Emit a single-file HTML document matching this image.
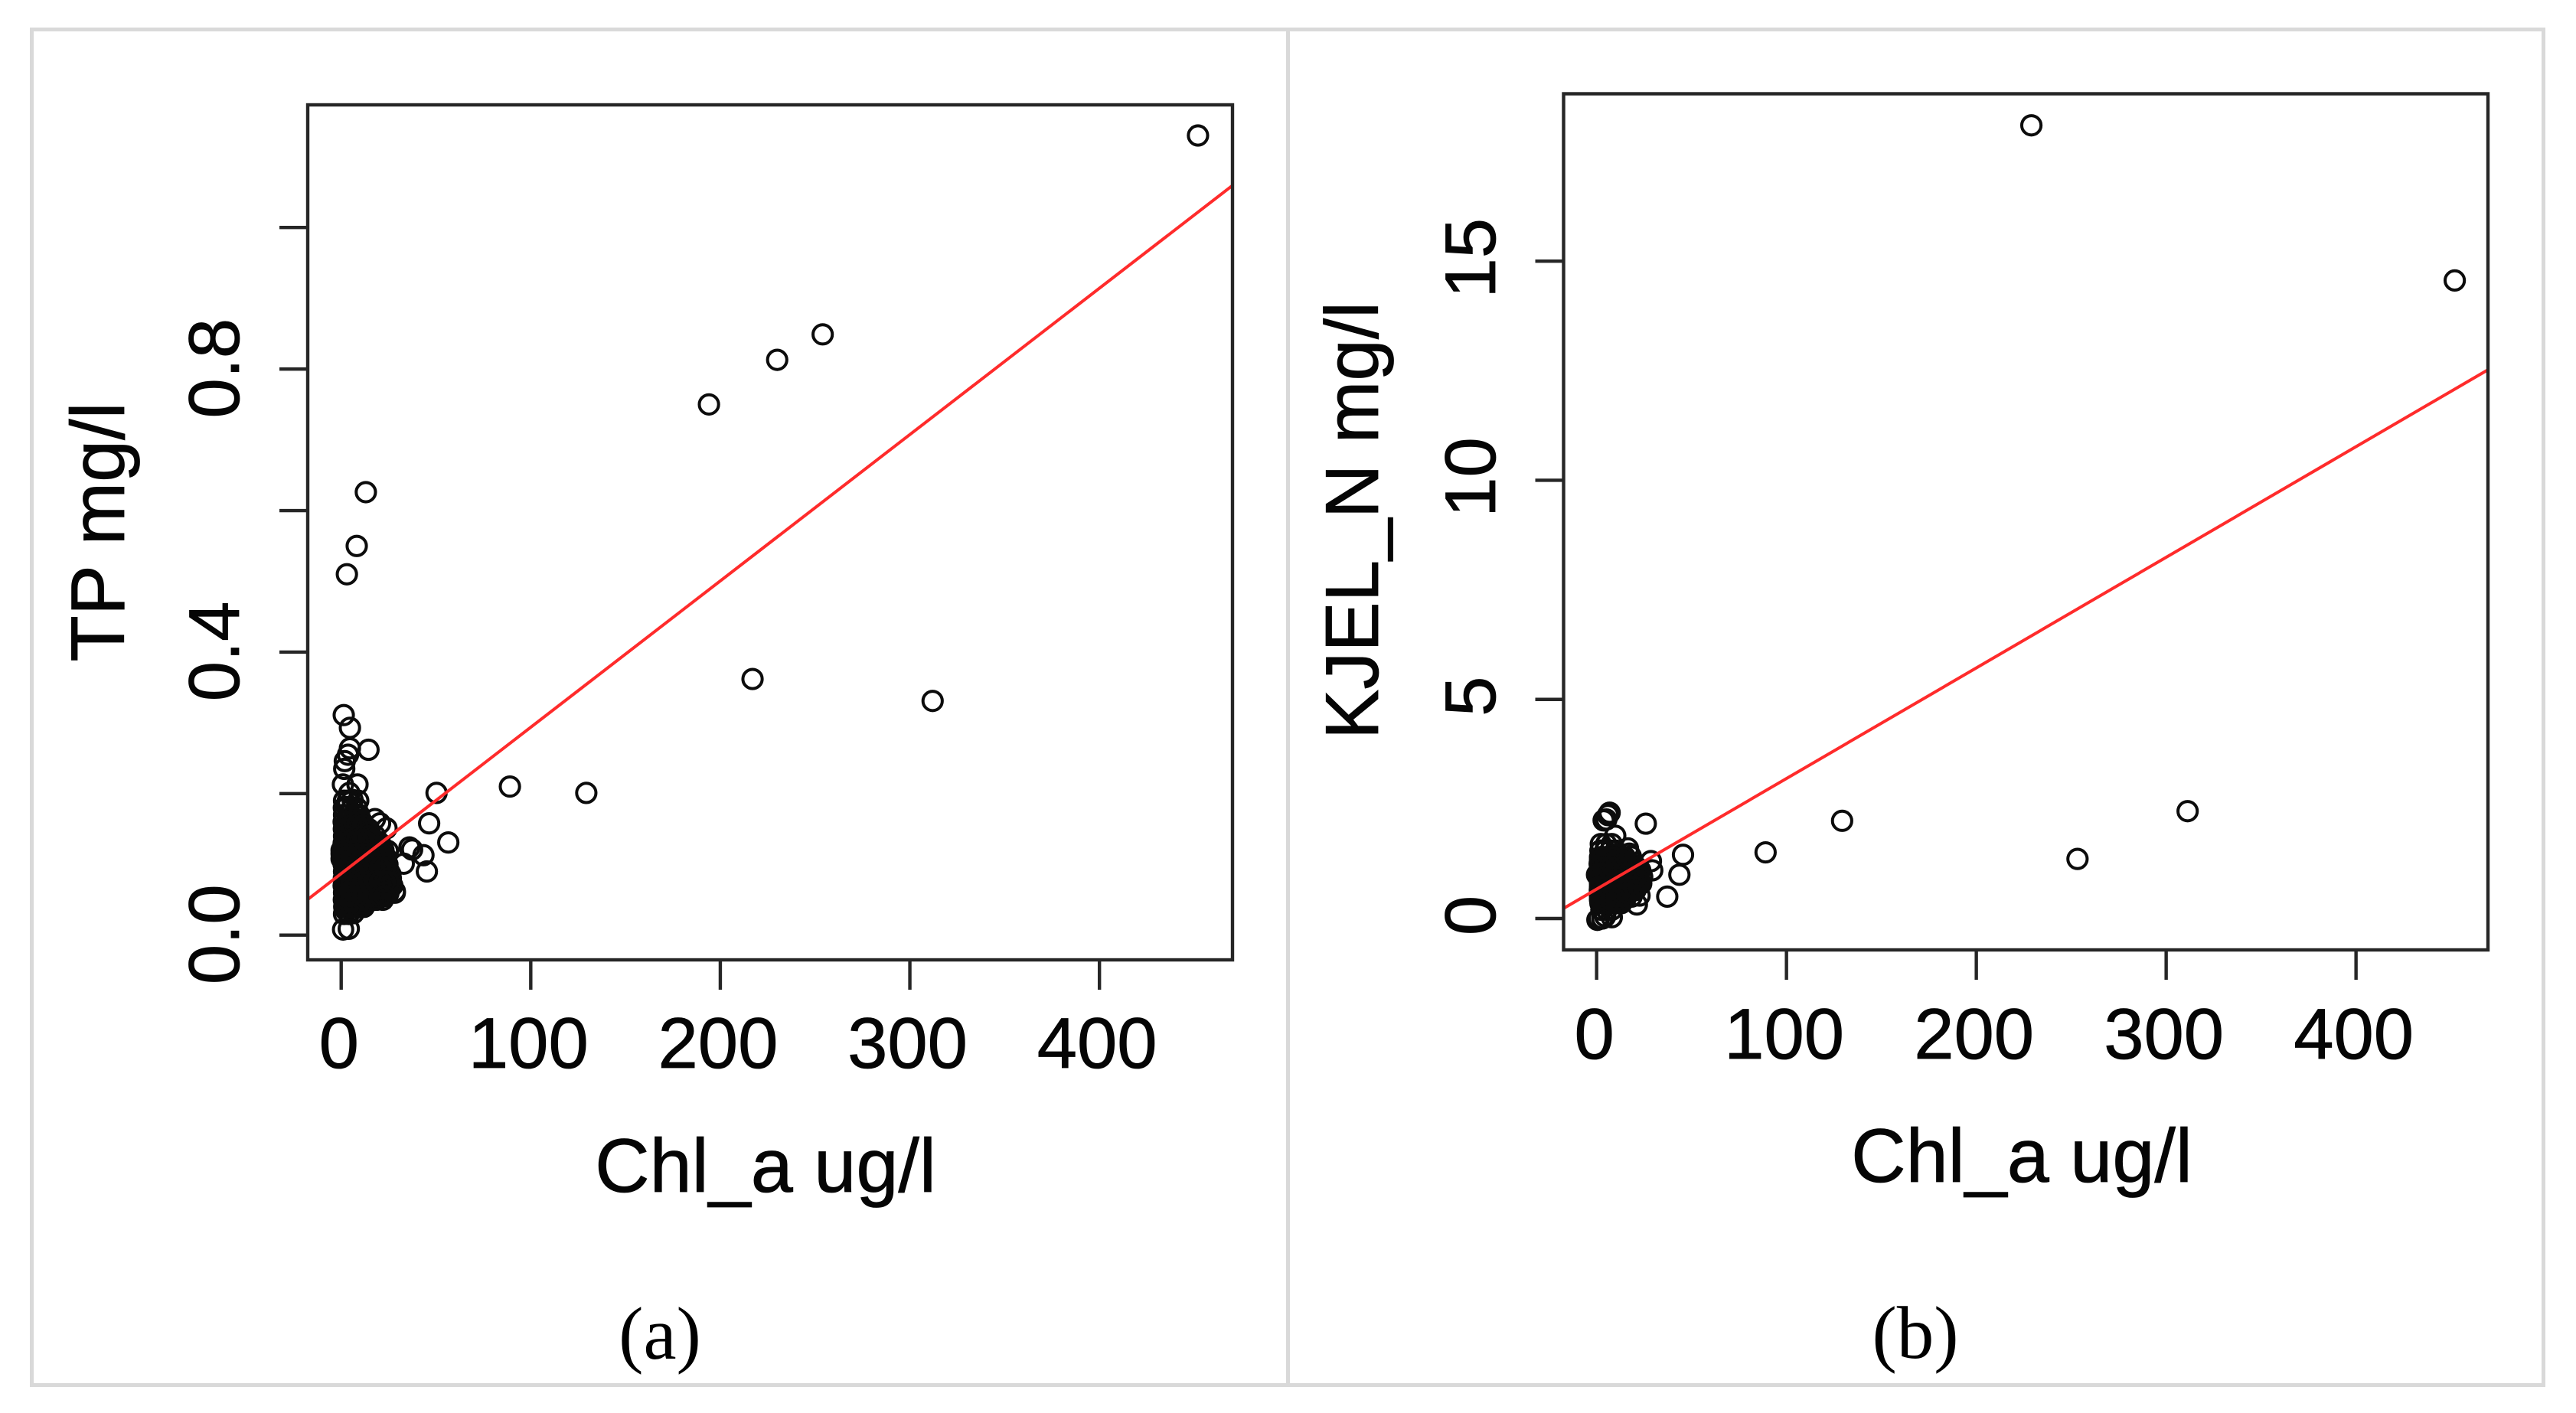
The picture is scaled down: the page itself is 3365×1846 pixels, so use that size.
<!DOCTYPE html>
<html lang="en">
<head>
<meta charset="utf-8">
<title>Chl_a scatter plots</title>
<style>
html,body{margin:0;padding:0;background:#fff;}
svg{display:block;}
text{font-family:"Liberation Sans",sans-serif;fill:#050505;stroke:#050505;stroke-width:0.8px;}
.cap{font-family:"Liberation Serif",serif;fill:#000;stroke:none;}
</style>
</head>
<body>
<svg id="figure" xmlns="http://www.w3.org/2000/svg" width="3365" height="1846" viewBox="0 0 3365 1846">
  <rect x="0" y="0" width="3365" height="1846" fill="#fff"/>
  <rect x="41.5" y="38.5" width="3281" height="1771" fill="none" stroke="#d9d9d9" stroke-width="5"/>
  <line x1="1682.5" y1="38.5" x2="1682.5" y2="1809.5" stroke="#d9d9d9" stroke-width="5"/>

  <g id="panel-a"></g>
  <g id="panel-b"></g>

  <text x="1000" y="1557" font-size="99" text-anchor="middle">Chl_a ug/l</text>
  <text transform="translate(162,695) rotate(-90)" font-size="99" text-anchor="middle">TP mg/l</text>
  <text class="cap" x="862" y="1775" font-size="97" text-anchor="middle">(a)</text>

  <text x="2641" y="1544" font-size="99" text-anchor="middle">Chl_a ug/l</text>
  <text transform="translate(1800,680) rotate(-90)" font-size="98" text-anchor="middle">KJEL_N mg/l</text>
  <text class="cap" x="2502" y="1774" font-size="97" text-anchor="middle">(b)</text>
</svg>

<script>
// ---- shared x axis ----
const chlTicks = [0, 100, 200, 300, 400];
const chlTickLabels = ["0", "100", "200", "300", "400"];

// ---- panel (a): TP vs Chl_a ----
const tpTicks = [0, 0.2, 0.4, 0.6, 0.8, 1.0];
const tpTickLabels = ["0.0", "", "0.4", "", "0.8", ""];
const fitA = [0.087, 0.002068];
const chlA = [
  452,254,230,194,217,312,129.3,89,50.3,46.4,56.5,
  13,8.2,3,1.35,4.6,14.4,4.6,3.6,1.9,1.6,0.9,8.6,4.3,
  36,37.4,43.4,45.2,33,28.3,23.9,17.8,20.5,24.6,26,1,4,
  0.2,0.2,0.2,
  1.5,3.5,6,9,
  1.4,3,5.8,8.2,
  1.5,4,7,9.5,
  1.3,3.2,5.5,8.4,11,
  1.4,3.6,6.4,9.2,12.2,14.5,
  1.5,4.2,7.1,10,12.8,15.8,18,
  1.3,3.8,6.6,9.5,12.4,15.3,18.1,20.5,
  1.2,3.4,6.2,9.1,12,14.9,17.8,20.6,22.3,
  1.4,4.1,7,9.9,12.8,15.7,18.6,21.4,23.6,
  1.3,3.6,6.5,9.4,12.3,15.2,18.1,21,24.4,
  1.5,4.3,7.2,10.1,13,15.9,18.8,21.7,25.2,
  1.4,3.8,6.7,9.6,12.5,15.4,18.3,21.2,24,26.2,
  1.3,4,6.9,9.8,12.7,15.6,18.5,21.4,24.3,27,
  1.5,3.7,6.6,9.5,12.4,15.3,18.2,21,25,28.3,
  1.4,4.2,7.1,10,12.9,15.8,18.7,22,
  1.6,3.9,6.8,9.7,12,
  1.5,4,6.5,
  2.5,5.5,8.5,11.5,14.5,
  2.5,5.5,8.5,11.5,14.5,17.5,
  2.5,5.5,8.5,11.5,14.5,17.5,20,
  2.5,5.5,8.5,11.5,14.5,17.5,20.5,23,
  2.5,5.5,8.5,11.5,14.5,17.5,20.5,23,
  2.5,5.5,8.5,11.5,
  2.5,5.5,
  2.8,5.6,8.5,11.4,14.3,
  2.5,5.2,8,11,13.9,16.8,19.5,
  2.2,4.8,7.6,10.5,13.4,16.3,19.2,
  2.7,5.5,8.4,11.3,14.2,17.1,20,22.5,
  2.4,5,7.9,10.8,13.7,16.6,19.5,22.5,
  2.8,5.7,8.6,11.5,14.4,17.3,20.2,23.4,
  2.6,5.2,8.1,11,13.9,16.8,19.7,22.6,25,
  2.6,5.4,8.3,11.2,14.1,17,19.9,22.8,25.6,
  2.6,5.1,8,10.9,13.8,16.7,19.6,23,
  2.8,5.6,8.5,11.4,14.3,17.2,
  2.7,5.3,8.2,10.8,
  2.5,5.5,8.5,11.5,
  2.5,5.5,8.5,11.5,14.5,17,
  2.5,5.5,8.5,11.5,14.5,17.5,20.5,
  2.5,5.5,8.5,11.5,14.5,17.5,20.5,23,
  2.5,5.5,8.5,11.5,14.5,17.5,20.5,23,25,
  2.5,5.5,8.5,11.5,14.5,17.5,20.5,23
];
const tpA = [
  1.13,0.849,0.813,0.75,0.362,0.331,0.201,0.21,0.201,0.158,0.131,
  0.626,0.55,0.51,0.311,0.293,0.262,0.264,0.255,0.246,0.235,0.213,0.213,0.201,
  0.124,0.121,0.113,0.09,0.101,0.062,0.151,0.164,0.158,0.119,0.086,0.008,0.009,
  0.115,0.108,0.12,
  0.19,0.19,0.191,0.19,
  0.18,0.181,0.18,0.18,
  0.17,0.17,0.171,0.17,
  0.16,0.161,0.16,0.16,0.16,
  0.15,0.15,0.151,0.15,0.15,0.15,
  0.14,0.14,0.14,0.141,0.14,0.14,0.14,
  0.13,0.13,0.131,0.13,0.13,0.13,0.13,0.13,
  0.12,0.12,0.12,0.121,0.12,0.12,0.12,0.12,0.12,
  0.11,0.11,0.11,0.11,0.111,0.11,0.11,0.11,0.11,
  0.10,0.10,0.10,0.10,0.10,0.101,0.10,0.10,0.10,
  0.09,0.09,0.09,0.09,0.09,0.09,0.091,0.09,0.09,
  0.08,0.08,0.08,0.08,0.08,0.08,0.08,0.081,0.08,0.08,
  0.07,0.07,0.07,0.07,0.07,0.07,0.07,0.071,0.07,0.07,
  0.06,0.06,0.06,0.06,0.06,0.06,0.061,0.06,0.06,0.06,
  0.05,0.05,0.05,0.05,0.051,0.05,0.05,0.05,
  0.04,0.04,0.041,0.04,0.04,
  0.03,0.03,0.031,
  0.145,0.145,0.145,0.145,0.145,
  0.125,0.125,0.125,0.125,0.125,0.125,
  0.105,0.105,0.105,0.105,0.105,0.105,0.105,
  0.085,0.085,0.085,0.085,0.085,0.085,0.085,0.085,
  0.065,0.065,0.065,0.065,0.065,0.065,0.065,0.065,
  0.045,0.045,0.045,0.045,
  0.035,0.035,
  0.14,0.14,0.14,0.14,0.14,
  0.13,0.13,0.13,0.13,0.13,0.13,0.13,
  0.12,0.12,0.12,0.12,0.12,0.12,0.12,
  0.11,0.11,0.11,0.11,0.11,0.11,0.11,0.11,
  0.10,0.10,0.10,0.10,0.10,0.10,0.10,0.10,
  0.09,0.09,0.09,0.09,0.09,0.09,0.09,0.09,
  0.08,0.08,0.08,0.08,0.08,0.08,0.08,0.08,0.08,
  0.07,0.07,0.07,0.07,0.07,0.07,0.07,0.07,0.07,
  0.06,0.06,0.06,0.06,0.06,0.06,0.06,0.06,
  0.05,0.05,0.05,0.05,0.05,0.05,
  0.04,0.04,0.04,0.04,
  0.155,0.155,0.155,0.155,
  0.135,0.135,0.135,0.135,0.135,0.135,
  0.115,0.115,0.115,0.115,0.115,0.115,0.115,
  0.095,0.095,0.095,0.095,0.095,0.095,0.095,0.095,
  0.075,0.075,0.075,0.075,0.075,0.075,0.075,0.075,0.075,
  0.055,0.055,0.055,0.055,0.055,0.055,0.055,0.055
];

// ---- panel (b): KJEL_N vs Chl_a ----
const kjelTicks = [0, 5, 10, 15];
const kjelTickLabels = ["0", "5", "10", "15"];
const fitB = [0.671, 0.02524];
const chlB = [
  452,229,311.3,253.3,129.3,89,45.5,43.6,37.2,25.9,
  6.85,6,5.1,3.7,9.8,16.5,17.2,18,28.6,29.3,22.6,21.2,0.4,1.2,4.5,8,3,0.2,
  2.2,5,8,
  2,4.5,7.2,10,
  1.8,4.2,7,9.8,12.6,15,
  1.6,4,6.8,9.6,12.4,15.2,18,
  1.5,3.8,6.6,9.4,12.2,15,17.8,20.6,23,
  1.6,4.1,6.9,9.7,12.5,15.3,18.1,20.9,24,
  1.8,4.3,7.1,9.9,12.7,15.5,18.3,21.1,23.5,
  1.7,4,6.8,9.6,12.4,15.2,18,20.5,
  1.8,4.4,7.2,10,12.8,15.6,18.4,
  2,4.6,7.4,10.2,13,
  2.5,5.2,8,
  3,6,9,12,15,
  3,6,9,12,15,18,21,
  3,6,9,12,15,18,21,
  3,6,9,12,15,18,21,
  3,6,9,12,15,18,
  3,6,9,12,15,
  3,6,9,
  3,5.6,8.4,
  2.8,5.4,8.2,11,13.8,
  2.6,5.2,8,10.8,13.6,16.4,19.2,21.8,
  2.8,5.5,8.3,11.1,13.9,16.7,19.5,22.4,
  3,5.7,8.5,11.3,14.1,16.9,19.7,22.3,
  2.8,5.4,8.2,11,13.8,16.6,19.2,
  3,5.8,8.6,11.4,14.2,
  3.2,6,8.8,11.6,
  1.8,4.5,7.5,10.5,13.5,
  1.8,4.5,7.5,10.5,13.5,16.5,19.5,
  1.8,4.5,7.5,10.5,13.5,16.5,19.5,22,
  1.8,4.5,7.5,10.5,13.5,16.5,19.5,22,
  1.8,4.5,7.5,10.5,13.5,16.5,19.5,
  1.8,4.5,7.5,10.5,13.5,16.5,
  1.8,4.5,7.5,10.5
];
const kjelB = [
  14.56,18.1,2.45,1.36,2.23,1.51,1.455,1.0,0.5,2.165,
  2.415,2.36,2.26,2.24,1.89,1.6,1.48,1.42,1.31,1.1,0.524,0.32,-0.03,0,0.05,0.03,0,1.0,
  1.7,1.7,1.7,
  1.55,1.55,1.55,1.55,
  1.4,1.4,1.4,1.4,1.4,1.4,
  1.25,1.25,1.25,1.25,1.25,1.25,1.25,
  1.1,1.1,1.1,1.1,1.1,1.1,1.1,1.1,1.1,
  0.95,0.95,0.95,0.95,0.95,0.95,0.95,0.95,0.95,
  0.8,0.8,0.8,0.8,0.8,0.8,0.8,0.8,0.8,
  0.65,0.65,0.65,0.65,0.65,0.65,0.65,0.65,
  0.5,0.5,0.5,0.5,0.5,0.5,0.5,
  0.35,0.35,0.35,0.35,0.35,
  0.2,0.2,0.2,
  1.325,1.325,1.325,1.325,1.325,
  1.175,1.175,1.175,1.175,1.175,1.175,1.175,
  1.025,1.025,1.025,1.025,1.025,1.025,1.025,
  0.875,0.875,0.875,0.875,0.875,0.875,0.875,
  0.725,0.725,0.725,0.725,0.725,0.725,
  0.575,0.575,0.575,0.575,0.575,
  0.425,0.425,0.425,
  1.4,1.4,1.4,
  1.25,1.25,1.25,1.25,1.25,
  1.1,1.1,1.1,1.1,1.1,1.1,1.1,1.1,
  0.95,0.95,0.95,0.95,0.95,0.95,0.95,0.95,
  0.8,0.8,0.8,0.8,0.8,0.8,0.8,0.8,
  0.65,0.65,0.65,0.65,0.65,0.65,0.65,
  0.5,0.5,0.5,0.5,0.5,
  0.35,0.35,0.35,0.35,
  1.325,1.325,1.325,1.325,1.325,
  1.175,1.175,1.175,1.175,1.175,1.175,1.175,
  1.025,1.025,1.025,1.025,1.025,1.025,1.025,1.025,
  0.875,0.875,0.875,0.875,0.875,0.875,0.875,0.875,
  0.725,0.725,0.725,0.725,0.725,0.725,0.725,
  0.575,0.575,0.575,0.575,0.575,0.575,
  0.425,0.425,0.425,0.425
];

const SVG_NS = "http://www.w3.org/2000/svg";
const INK = "#262626";

function mk(parent, tag, attrs) {
  const node = document.createElementNS(SVG_NS, tag);
  for (const k in attrs) node.setAttribute(k, attrs[k]);
  parent.appendChild(node);
  return node;
}

function drawPanel(cfg) {
  const g = document.getElementById(cfg.id);
  const box = cfg.box;
  const sx = v => box.left + (v - cfg.xDomain[0]) / (cfg.xDomain[1] - cfg.xDomain[0]) * (box.right - box.left);
  const sy = v => box.bottom - (v - cfg.yDomain[0]) / (cfg.yDomain[1] - cfg.yDomain[0]) * (box.bottom - box.top);

  cfg.xs.forEach((x, i) => {
    const c = mk(g, "circle", {cx: sx(x), cy: sy(cfg.ys[i]), r: 12.6, fill: "none", stroke: "#0c0c0c", "stroke-width": 4});
    
    
  });

  const fitLine = mk(g, "line", {
    x1: sx(cfg.xDomain[0]), y1: sy(cfg.fit[0] + cfg.fit[1] * cfg.xDomain[0]),
    x2: sx(cfg.xDomain[1]), y2: sy(cfg.fit[0] + cfg.fit[1] * cfg.xDomain[1]),
    stroke: "#ff2b2b", "stroke-width": 4
  });
  
  

  const frame = mk(g, "rect", {x: box.left, y: box.top, width: box.right - box.left, height: box.bottom - box.top, fill: "none", stroke: INK, "stroke-width": 4.4});
  
  

  chlTicks.forEach((t, i) => {
    const tick = mk(g, "line", {x1: sx(t), y1: box.bottom, x2: sx(t), y2: box.bottom + 39, stroke: INK, "stroke-width": 4.4});
    
    
    const label = mk(g, "text", {x: sx(t) - 3, y: cfg.xLabelY, "font-size": 94, "text-anchor": "middle"});
    
    
    label.textContent = chlTickLabels[i];
  });

  cfg.yTicks.forEach((t, i) => {
    const tick = mk(g, "line", {x1: box.left, y1: sy(t), x2: box.left - 37, y2: sy(t), stroke: INK, "stroke-width": 4.4});
    
    
    if (cfg.yLabels[i]) {
      const label = mk(g, "text", {
        transform: "translate(" + cfg.yLabelX + "," + (sy(t) + cfg.yLabelDy) + ") rotate(-90)",
        "font-size": 94, "text-anchor": "middle"
      });
      
      
      label.textContent = cfg.yLabels[i];
    }
  });
}

drawPanel({
  id: "panel-a",
  box: {left: 402, right: 1610, top: 137, bottom: 1254},
  xDomain: [-17.65, 470.2],
  yDomain: [-0.0349, 1.1733],
  xs: chlA, ys: tpA, fit: fitA,
  yTicks: tpTicks, yLabels: tpTickLabels,
  xLabelY: 1395, yLabelX: 312, yLabelDy: -1
});

drawPanel({
  id: "panel-b",
  box: {left: 2042.5, right: 3250, top: 122.5, bottom: 1241},
  xDomain: [-17.4, 469.5],
  yDomain: [-0.716, 18.82],
  xs: chlB, ys: kjelB, fit: fitB,
  yTicks: kjelTicks, yLabels: kjelTickLabels,
  xLabelY: 1383, yLabelX: 1953, yLabelDy: -4
});
</script>
</body>
</html>
